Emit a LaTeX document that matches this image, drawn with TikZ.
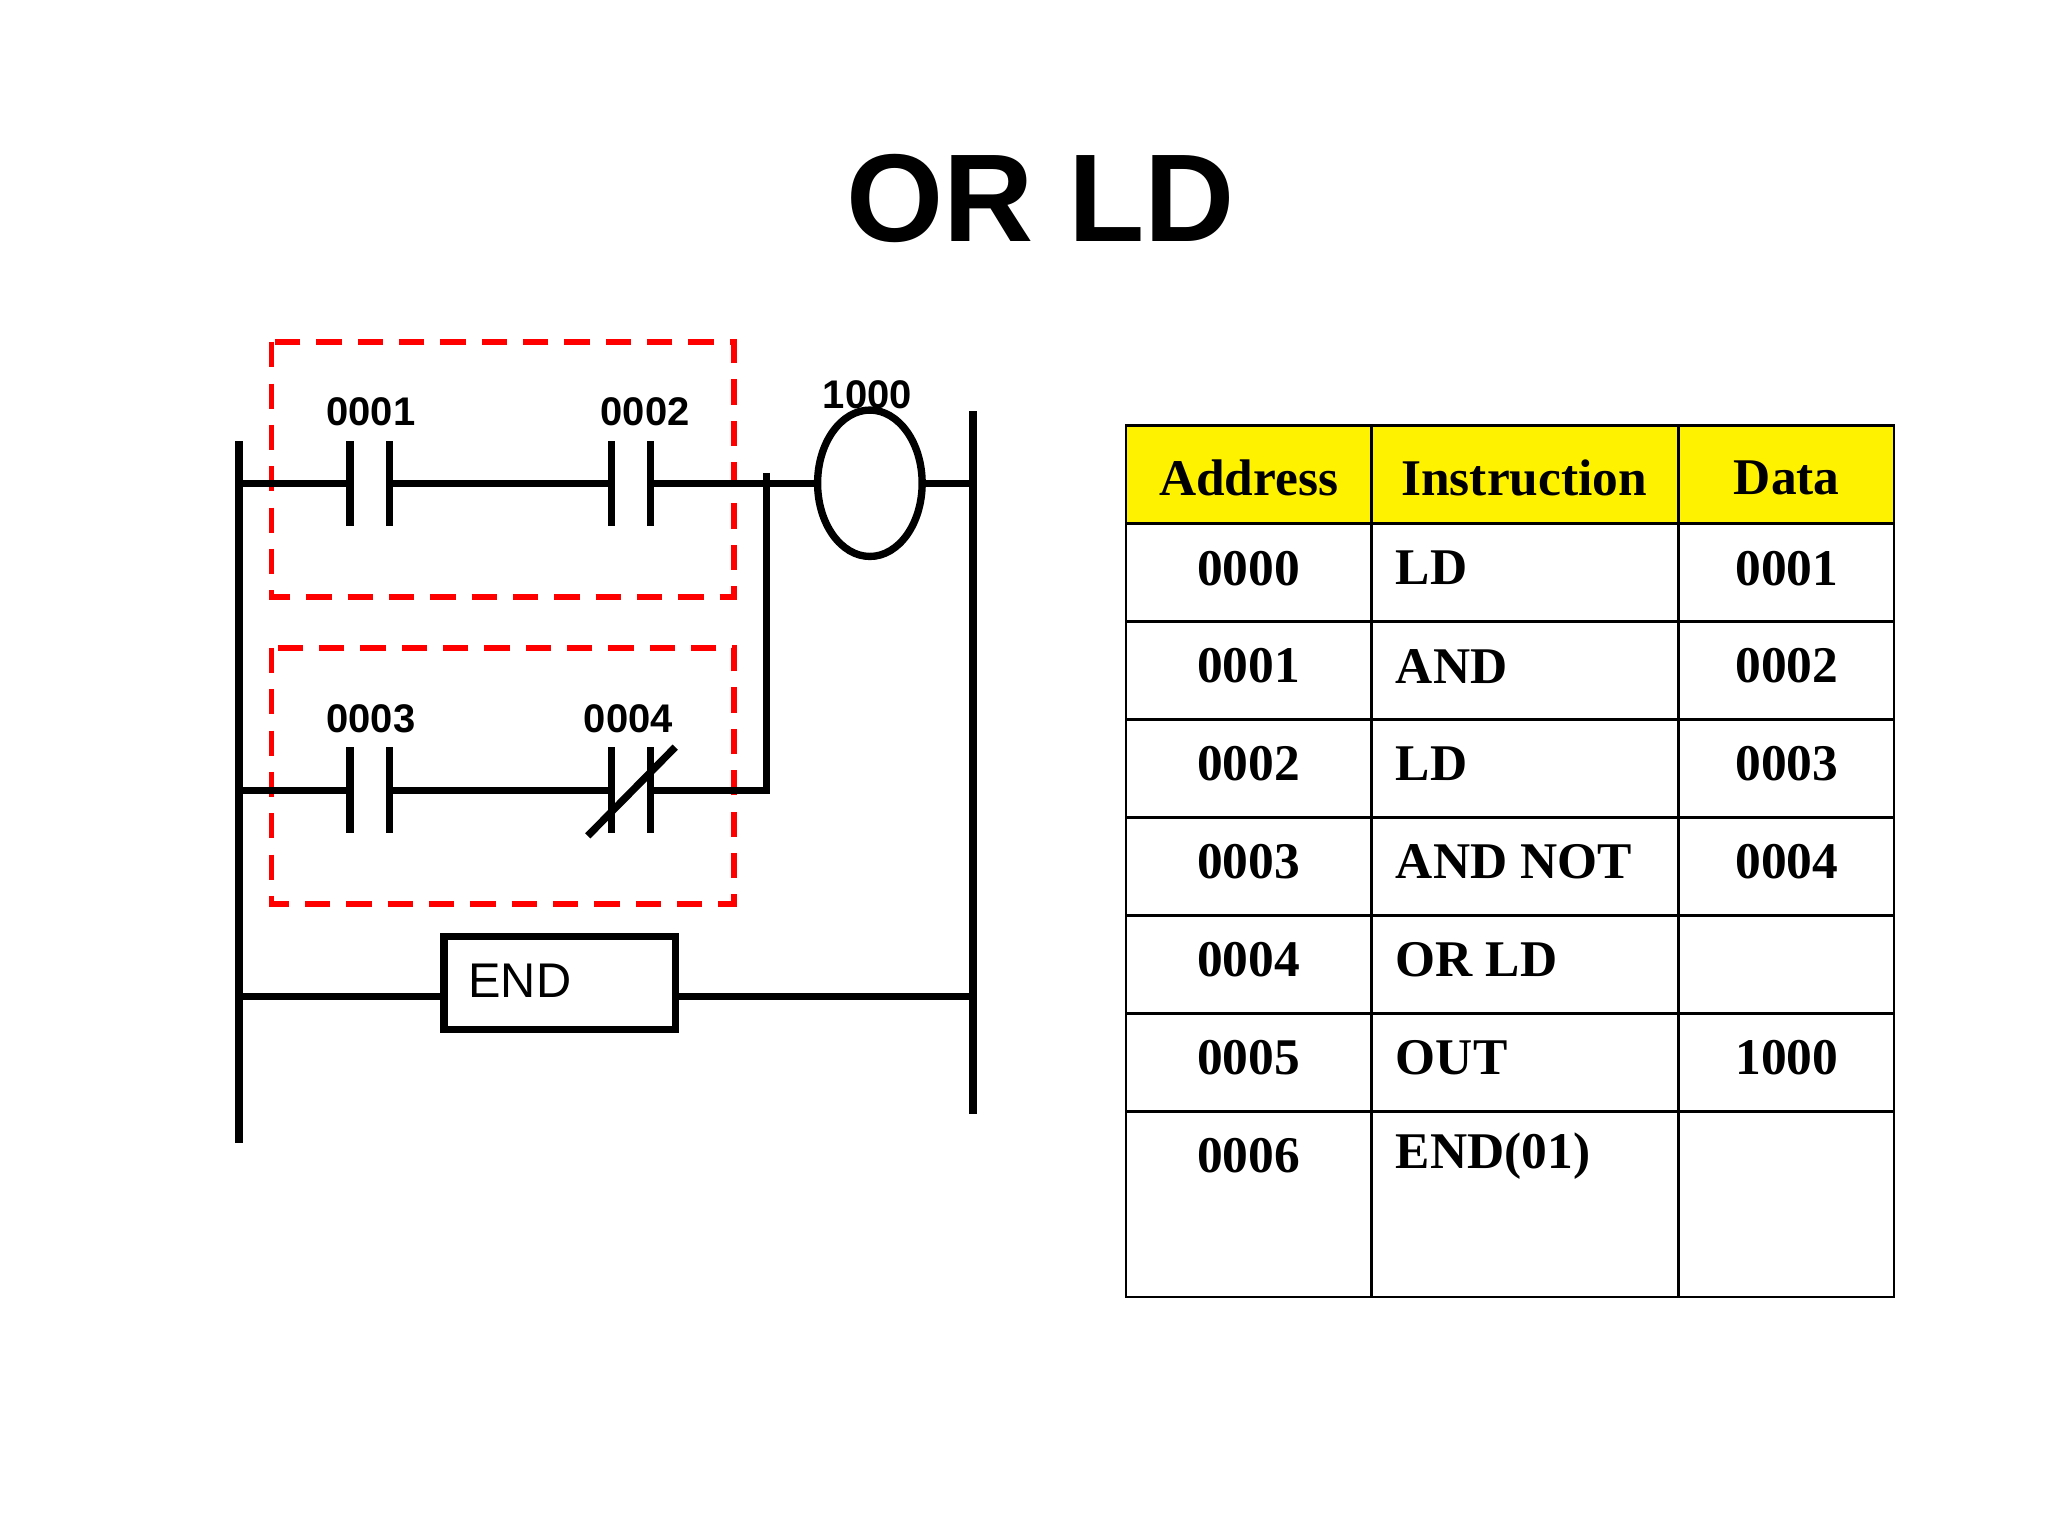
\documentclass[tikz,border=0pt]{standalone}
\usepackage{fontspec}
\setmainfont{Liberation Serif}
\newfontfamily\sansf{Liberation Sans}
\usetikzlibrary{shapes.geometric}
\begin{document}
\begin{tikzpicture}[x=0.01cm,y=-0.01cm,
  wire/.style={line width=1.6pt},
  plate/.style={line width=1.6pt},
  lbl/.style={font=\sansf\bfseries\fontsize{8.7}{10}\selectfont, inner sep=0pt},
  grp/.style={draw=red, line width=1.2pt, dash pattern=on 5.5pt off 3.5pt},
  cell/.style={font=\bfseries\fontsize{11.2}{13}\selectfont, inner sep=0pt}]
\useasboundingbox (0,0) rectangle (1568,1176);
\node[font=\sansf\bfseries\fontsize{27.2}{30}\selectfont] (title) at (797,152) {OR LD};
% rails
\coordinate (l1) at (183,338); \coordinate (l2) at (183,875);
\coordinate (r1) at (745,315); \coordinate (r2) at (745,853);
\draw[wire] (l1) -- (l2);
\draw[wire] (r1) -- (r2);
% group boxes
\draw[grp] (208,262) rectangle (562,457);
\draw[grp] (208,496) rectangle (562,692);
% rung 1
\coordinate (a1) at (183,370); \coordinate (c1l) at (268,370); \coordinate (c1r) at (298,370);
\coordinate (c2l) at (468,370); \coordinate (c2r) at (498,370);
\draw[wire] (a1) -- (c1l) (c1r) -- (c2l) (c2r) -- (625,370);
\foreach \x in {268,298,468,498} \draw[plate] (\x,338) -- (\x,403);
\node[draw, line width=1.6pt, ellipse, minimum width=0.8cm, minimum height=1.12cm, inner sep=0pt] (coil) at (666,370) {};
\draw[wire] (coil.east) -- (745,370);
\node[lbl] (n1) at (284,315) {0001};
\node[lbl] (n2) at (494,315) {0002};
\node[lbl] (n5) at (664,302) {1000};
% rung 2
\draw[wire] (183,605) -- (268,605) (298,605) -- (468,605) (498,605) -- (583,605);
\foreach \x in {268,298,468,498} \draw[plate] (\x,572) -- (\x,638);
\draw[plate] (450,640) -- (517,572);
\draw[wire] (587,362) -- (587,605) -- (580,605);
\node[lbl] (n3) at (284,550) {0003};
\node[lbl] (n4) at (481,550) {0004};
% END
\node[draw, line width=1.6pt, minimum width=1.77cm, minimum height=0.71cm, inner sep=0pt] (endb) at (428.5,752.5) {};
\node[font=\sansf\fontsize{10.6}{12}\selectfont, inner sep=0pt] (endt) at (398,751) {END};
\draw[wire] (183,763) -- (endb.west |- 0,763) (endb.east |- 0,763) -- (745,763);
% table
\fill[yellow] (862,326) rectangle (1450,401);
\draw[line width=0.6pt] (862,326) rectangle (1450,993);
\foreach \y in {401,476,551,626,701,776,851} \draw[line width=0.6pt] (862,\y) -- (1450,\y);
\foreach \x in {1050,1285} \draw[line width=0.6pt] (\x,326) -- (\x,993);
\node[cell] (h1) at (956,366) {Address};
\node[cell] (h2) at (1167,366) {Instruction};
\node[cell] (h3) at (1368,366) {Data};
\foreach \a/\i/\d [count=\k from 0] in {0000/LD/0001,0001/AND/0002,0002/LD/0003,0003/AND NOT/0004,0004/OR LD/,0005/OUT/1000,0006/END(01)/} {
  \node[cell] (a\k) at (956,435+75*\k) {\a};
  \node[cell, anchor=west] (i\k) at (1068,435+75*\k) {\i};
  \node[cell] (d\k) at (1368,435+75*\k) {\d};
}
\end{tikzpicture}
\end{document}
